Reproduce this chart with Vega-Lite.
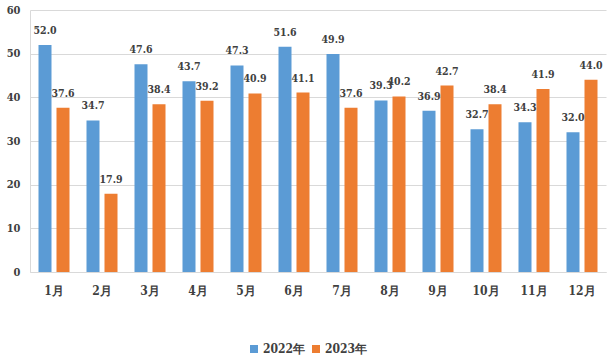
{
  "$schema": "https://vega.github.io/schema/vega-lite/v6.json",
  "autosize": "none",
  "width": 576,
  "height": 262,
  "padding": {"left": 30, "top": 10, "right": 8, "bottom": 90},
  "background": "white",
  "config": {
    "view": {"stroke": null},
    "font": "DejaVu Serif Condensed"
  },
  "data": {
    "values": [
      {"month": "1月", "year": "2022年", "value": 52.0},
      {"month": "2月", "year": "2022年", "value": 34.7},
      {"month": "3月", "year": "2022年", "value": 47.6},
      {"month": "4月", "year": "2022年", "value": 43.7},
      {"month": "5月", "year": "2022年", "value": 47.3},
      {"month": "6月", "year": "2022年", "value": 51.6},
      {"month": "7月", "year": "2022年", "value": 49.9},
      {"month": "8月", "year": "2022年", "value": 39.3},
      {"month": "9月", "year": "2022年", "value": 36.9},
      {"month": "10月", "year": "2022年", "value": 32.7},
      {"month": "11月", "year": "2022年", "value": 34.3},
      {"month": "12月", "year": "2022年", "value": 32.0},
      {"month": "1月", "year": "2023年", "value": 37.6},
      {"month": "2月", "year": "2023年", "value": 17.9},
      {"month": "3月", "year": "2023年", "value": 38.4},
      {"month": "4月", "year": "2023年", "value": 39.2},
      {"month": "5月", "year": "2023年", "value": 40.9},
      {"month": "6月", "year": "2023年", "value": 41.1},
      {"month": "7月", "year": "2023年", "value": 37.6},
      {"month": "8月", "year": "2023年", "value": 40.2},
      {"month": "9月", "year": "2023年", "value": 42.7},
      {"month": "10月", "year": "2023年", "value": 38.4},
      {"month": "11月", "year": "2023年", "value": 41.9},
      {"month": "12月", "year": "2023年", "value": 44.0}
    ]
  },
  "encoding": {
    "x": {
      "field": "month", "type": "nominal", "sort": null,
      "scale": {"paddingInner": 0, "paddingOuter": 0},
      "axis": {
        "title": null, "labelAngle": 0, "ticks": false,
        "domainColor": "#d9d9d9", "domainWidth": 1,
        "labelFont": "DejaVu Serif Condensed",
        "labelFontSize": 12, "labelFontWeight": "bold", "labelColor": "#404040",
        "labelPadding": 13
      }
    },
    "xOffset": {
      "field": "year", "type": "nominal",
      "scale": {"paddingInner": 0.278, "paddingOuter": 0.472}
    },
    "y": {
      "field": "value", "type": "quantitative",
      "scale": {"domain": [0, 60], "nice": false},
      "axis": {
        "title": null, "values": [0, 10, 20, 30, 40, 50, 60],
        "ticks": false, "domain": true, "domainColor": "#d9d9d9",
        "gridColor": "#d9d9d9", "gridWidth": 1,
        "labelFont": "DejaVu Serif Condensed", "labelFontSize": 11,
        "labelFontWeight": "bold", "labelColor": "#404040", "labelPadding": 10
      }
    }
  },
  "layer": [
    {
      "mark": {"type": "bar"},
      "encoding": {
        "color": {
          "field": "year", "type": "nominal",
          "scale": {"domain": ["2022年", "2023年"], "range": ["#5B9BD5", "#ED7D31"]},
          "legend": {
            "title": null, "orient": "none", "direction": "horizontal",
            "legendX": 218, "legendY": 333,
            "symbolType": "square", "symbolSize": 64, "symbolStrokeWidth": 0,
            "labelFont": "DejaVu Serif Condensed",
            "labelFontSize": 12, "labelFontWeight": "bold", "labelColor": "#404040",
            "columnPadding": 4, "labelOffset": 3
          }
        }
      }
    },
    {
      "mark": {
        "type": "text", "dy": -11, "baseline": "alphabetic",
        "font": "DejaVu Serif Condensed", "fontSize": 10.5, "fontWeight": "bold",
        "color": "#404040"
      },
      "encoding": {
        "text": {"field": "value", "type": "quantitative", "format": ".1f"}
      }
    }
  ]
}
